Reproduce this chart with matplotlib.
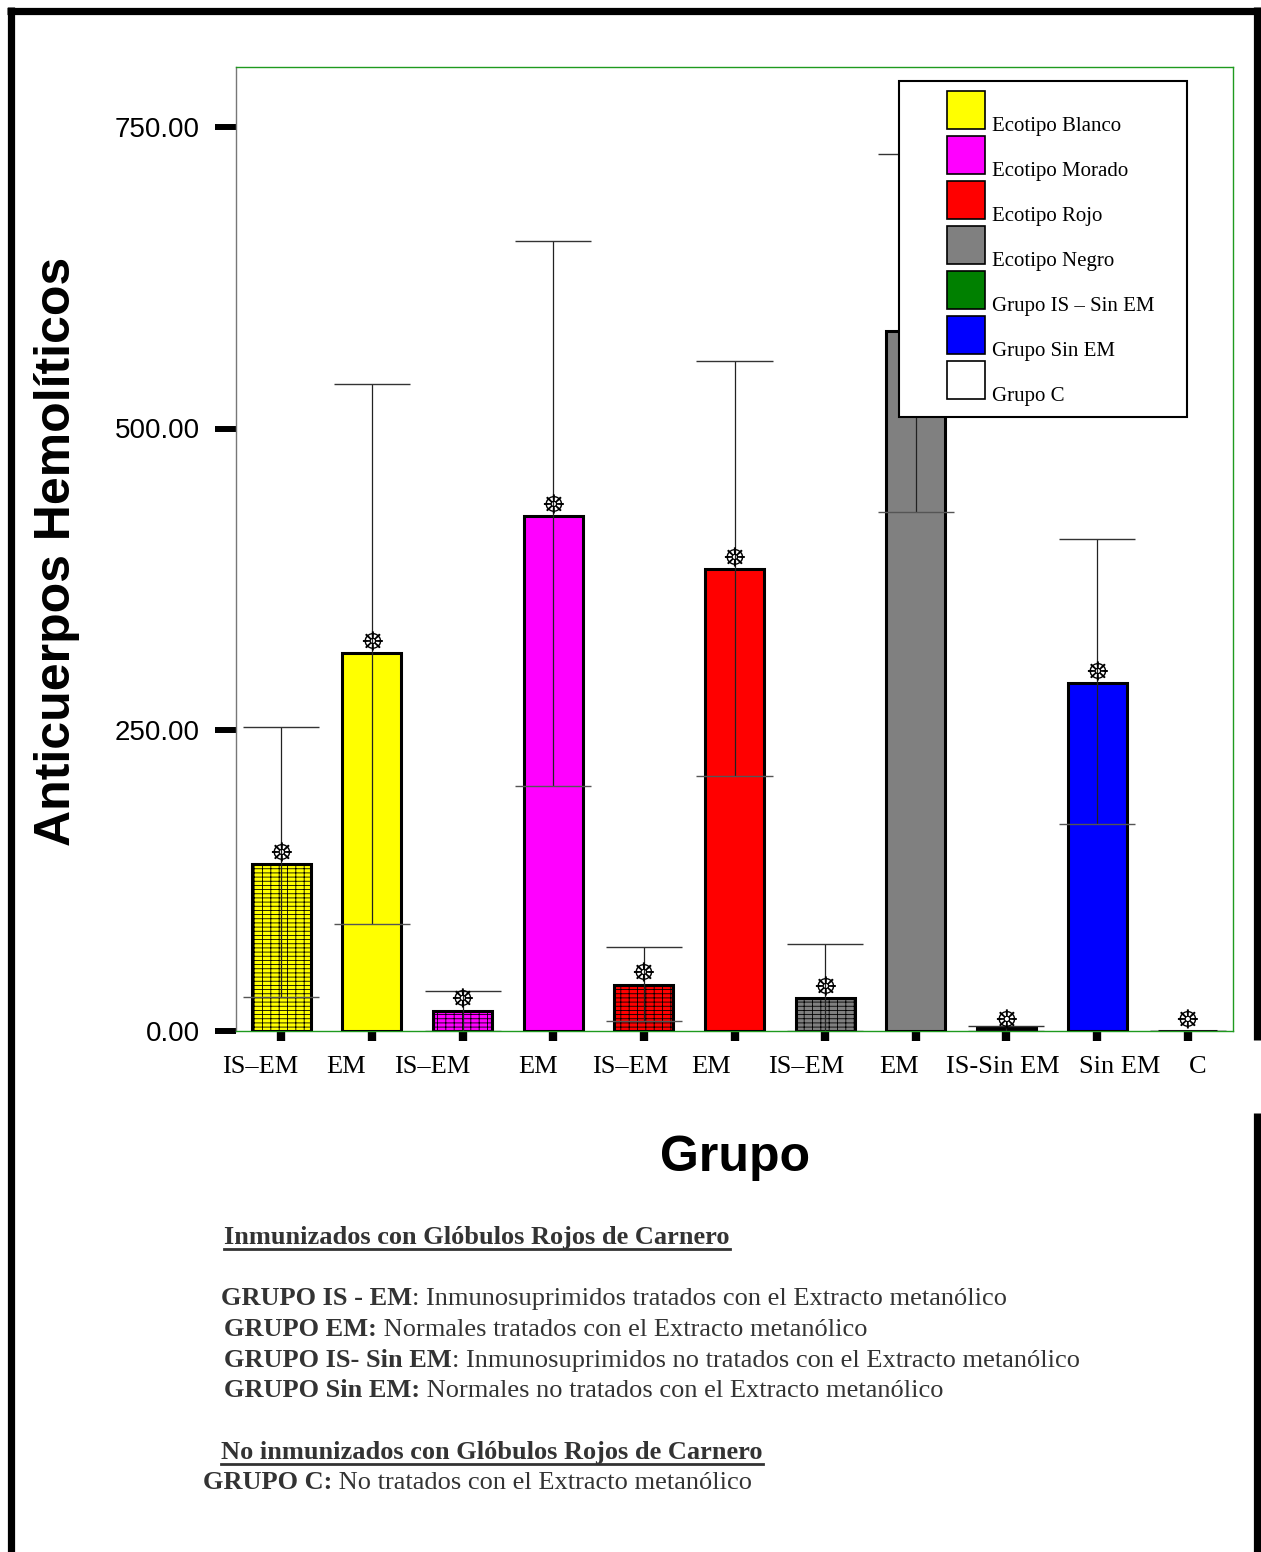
import matplotlib
matplotlib.use('Agg')
import matplotlib.pyplot as plt
from matplotlib.patches import Rectangle
from matplotlib.lines import Line2D
from matplotlib.ticker import FormatStrFormatter
from matplotlib.transforms import ScaledTranslation

# ---------------- data ----------------
categories = ['IS–EM', 'EM', 'IS–EM', 'EM', 'IS–EM', 'EM', 'IS–EM', 'EM',
              'IS-Sin EM', 'Sin EM', 'C']
means = [139, 314, 17, 427, 38, 383, 27, 581, 2.5, 289, 0]
err_hi = [252, 537, 33, 656, 70, 556, 72, 728, 4, 408, 0]
err_lo = [28, 89, 0, 203, 8, 212, 0, 431, 0, 172, 0]
marker_vals = [147, 322, 26, 436, 47, 392, 36, 590, 8, 297, 8]
bar_colors = ['#ffff00', '#ffff00', '#ff00ff', '#ff00ff', '#ff0000', '#ff0000',
              '#808080', '#808080', '#008000', '#0000ff', '#ffffff']
hatched = [True, False, True, False, True, False, True, False, False, False, False]
yticks = [0, 250, 500, 750]

legend_labels = ['Ecotipo Blanco', 'Ecotipo Morado', 'Ecotipo Rojo', 'Ecotipo Negro',
                 'Grupo IS – Sin EM', 'Grupo Sin EM', 'Grupo C']
legend_colors = ['#ffff00', '#ff00ff', '#ff0000', '#808080', '#008000', '#0000ff', '#ffffff']

label_dx = [-21, -26, -30, -15, -14, -23, -19, -17, -4, 23, 10]  # px offsets of tick labels

notes = [
    (1244, 224, [('Inmunizados con Glóbulos Rojos de Carnero', True)], True),
    (1305, 221, [('GRUPO IS - EM', True), (': Inmunosuprimidos tratados con el Extracto metanólico', False)], False),
    (1336, 224, [('GRUPO EM:', True), (' Normales tratados con el Extracto metanólico', False)], False),
    (1367, 224, [('GRUPO IS- Sin EM', True), (': Inmunosuprimidos no tratados con el Extracto metanólico', False)], False),
    (1397, 224, [('GRUPO Sin EM:', True), (' Normales no tratados con el Extracto metanólico', False)], False),
    (1459, 221, [('No inmunizados con Glóbulos Rojos de Carnero', True)], True),
    (1489, 203, [('GRUPO C:', True), (' No tratados con el Extracto metanólico', False)], False),
]

# ---------------- figure ----------------
W, H = 1261, 1552
plt.rcParams['hatch.linewidth'] = 0.6
fig = plt.figure(figsize=(W / 100, H / 100), dpi=100)
fig.patch.set_facecolor('white')

def fx(x):
    return x / W

def fy(y):
    return 1 - y / H

ax = fig.add_axes([fx(236), fy(1031), (1233 - 236) / W, (1031 - 67) / H])
x = list(range(len(categories)))

bars = ax.bar(x, means, width=0.65, color=bar_colors, edgecolor='black',
              linewidth=2.2, zorder=3)
for b, h in zip(bars, hatched):
    if h:
        b.set_hatch('----||')

ax.vlines(x, err_lo, err_hi, color='#222222', linewidth=0.9, zorder=4)
ax.hlines(err_hi, [i - 0.42 for i in x], [i + 0.42 for i in x], color='#333333', linewidth=1.0, zorder=4)
ax.hlines(err_lo, [i - 0.42 for i in x], [i + 0.42 for i in x], color='#555555', linewidth=1.0, zorder=4)

for i, v in zip(x, marker_vals):
    ax.text(i, v, '☸', ha='center', va='center', fontsize=19, weight='bold',
            family='DejaVu Sans', color='black', zorder=5)

ax.set_xlim(-0.5, len(categories) - 0.5)
ax.set_ylim(0, 800)
ax.set_yticks(yticks)
ax.yaxis.set_major_formatter(FormatStrFormatter('%.2f'))
ax.set_xticks(x)
ax.set_xticklabels(categories, family='Liberation Serif', fontsize=19)
for lab in ax.get_yticklabels():
    lab.set_family('Liberation Sans')
    lab.set_fontsize(20)
ax.tick_params(axis='y', length=15, width=4.3, color='black', pad=11, direction='out')
ax.tick_params(axis='x', length=7, width=6, color='black', pad=11, direction='out')
for lab, dx in zip(ax.get_xticklabels(), label_dx):
    lab.set_transform(lab.get_transform() + ScaledTranslation(dx / 100, 0, fig.dpi_scale_trans))

ax.spines['left'].set_color('#777777')
for s in ['top', 'right', 'bottom']:
    ax.spines[s].set_color('#1f9a1f')
for s in ax.spines.values():
    s.set_linewidth(1.0)

# axis titles
fig.text(fx(57), fy(551), 'Anticuerpos Hemolíticos', rotation=90, ha='center', va='center',
         fontsize=36, weight='bold', family='Liberation Sans')
fig.text(fx(735), fy(1158), 'Grupo', ha='center', va='center',
         fontsize=36, weight='bold', family='Liberation Sans')

# legend (manual)
fig.add_artist(Rectangle((fx(899), fy(417)), (1187 - 899) / W, (417 - 81) / H,
                         transform=fig.transFigure, facecolor='white', edgecolor='black',
                         linewidth=1.5, zorder=10))
for k, (lab, col) in enumerate(zip(legend_labels, legend_colors)):
    top = 91 + 45 * k
    fig.add_artist(Rectangle((fx(947), fy(top + 38)), 38 / W, 38 / H,
                             transform=fig.transFigure, facecolor=col, edgecolor='black',
                             linewidth=1.2, zorder=11))
    fig.text(fx(992), fy(top + 40), lab, ha='left', va='baseline', fontsize=15,
             family='Liberation Serif', zorder=12)

# notes below
fig.canvas.draw()
renderer = fig.canvas.get_renderer()
for ybase, x0, parts, underline in notes:
    xc = x0
    for txt, bold in parts:
        t = fig.text(fx(xc), fy(ybase), txt, ha='left', va='baseline', fontsize=19,
                     family='Liberation Serif', weight='bold' if bold else 'normal',
                     color='#333333')
        bb = t.get_window_extent(renderer)
        xc = bb.x1
    if underline:
        fig.add_artist(Line2D([fx(x0), fx(xc)], [fy(ybase + 5), fy(ybase + 5)],
                              transform=fig.transFigure, color='#333333', linewidth=2.0))

# page border
bk = dict(transform=fig.transFigure, color='black', linewidth=5.2, solid_capstyle='butt')
fig.add_artist(Line2D([fx(10.5), fx(10.5)], [fy(7), fy(1552)], **bk))
fig.add_artist(Line2D([fx(7), fx(1261)], [fy(10.5), fy(10.5)], **bk))
fig.add_artist(Line2D([fx(1257), fx(1257)], [fy(7), fy(1040)], **bk))
fig.add_artist(Line2D([fx(1257), fx(1257)], [fy(1113), fy(1552)], **bk))

fig.savefig('out.png', dpi=100, facecolor='white')
